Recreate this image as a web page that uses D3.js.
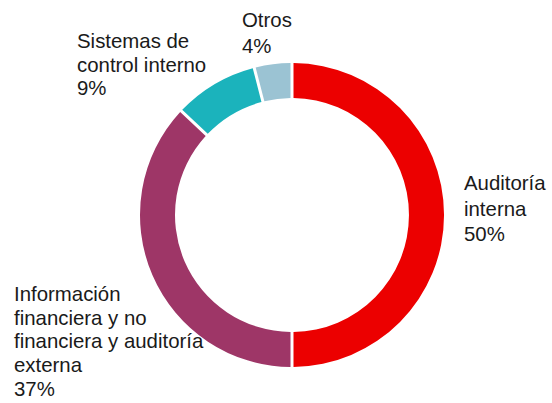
<!DOCTYPE html>
<html>
<head>
<meta charset="utf-8">
<script src="https://cdn.jsdelivr.net/npm/d3@7"></script>
<style>
  html, body { margin: 0; padding: 0; background: #fff; }
  svg { display: block; }
  text { font-family: "Liberation Sans", Arial, sans-serif; font-size: 20.4px; fill: #1a1a1a; }
</style>
</head>
<body>
<svg id="chart" width="552" height="403"></svg>
<script>
// Distribution by area (percent)
const categories = ["Auditoría interna", "Información financiera y no financiera y auditoría externa", "Sistemas de control interno", "Otros"];
const values = [50, 37, 9, 4];
const colors = ["#ec0000", "#9e3667", "#1bb3bc", "#9bc3d3"];
const labelLines = [
  ["Auditoría", "interna"],
  ["Información", "financiera y no", "financiera y auditoría", "externa"],
  ["Sistemas de", "control interno"],
  ["Otros"]
];

const svg = d3.select("#chart");
const cx = 292, cy = 215, outerR = 152, innerR = 117;

const pie = d3.pie().sort(null).value(d => d)(values);
const arc = d3.arc()
  .innerRadius(innerR)
  .outerRadius(outerR)
  .padAngle(3 / 150)
  .padRadius(150);

const g = svg.append("g").attr("transform", `translate(${cx},${cy})`);
g.selectAll("path")
  .data(pie)
  .join("path")
  .attr("d", arc)
  .attr("fill", (d, i) => colors[i]);

// Label anchors: x and first baseline, with line spacing
const labelPos = [
  { x: 464, y: 190, lh: 25.5 },
  { x: 14, y: 301, lh: 23.7 },
  { x: 77, y: 48, lh: 23.5 },
  { x: 242, y: 27, lh: 25.5 }
];

categories.forEach((c, i) => {
  const lines = labelLines[i].concat([values[i] + "%"]);
  const t = svg.append("text").attr("x", labelPos[i].x).attr("y", labelPos[i].y);
  lines.forEach((ln, j) => {
    t.append("tspan")
      .attr("x", labelPos[i].x)
      .attr("dy", j === 0 ? 0 : labelPos[i].lh)
      .text(ln);
  });
});
</script>
</body>
</html>
